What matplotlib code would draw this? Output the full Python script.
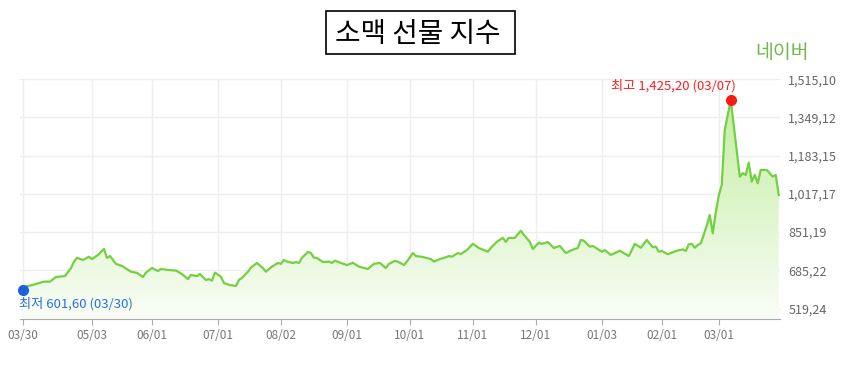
import numpy as np
import pandas as pd
import matplotlib.pyplot as plt
from matplotlib.colors import LinearSegmentedColormap
from matplotlib.patches import Rectangle

plt.rcParams['font.family'] = ['Noto Sans CJK KR', 'DejaVu Sans']

start = '2021-03-30'
# exchange holidays (no trading) in the period
holidays = ['2021-04-02', '2021-05-31', '2021-07-05', '2021-09-06',
            '2021-11-25', '2021-12-24', '2022-01-17', '2022-02-21']

# trading day number counted from 2021-03-30, and index value
day = [0, 1, 3, 7, 9, 11, 14, 16, 17, 18, 20, 22, 23, 25, 27, 28, 29, 31, 33, 36,
       38, 40, 41, 43, 45, 46, 48, 51, 53, 55, 56, 58, 59, 61, 62, 63, 64, 66, 67, 69,
       71, 72, 73, 75, 76, 78, 80, 81, 83, 85, 86, 87, 88, 90, 91, 92, 93, 95, 96, 97,
       98, 100, 102, 103, 104, 106, 108, 110, 112, 115, 117, 119, 121, 122, 124, 125, 127, 128, 130, 131,
       133, 136, 137, 139, 141, 142, 143, 145, 146, 148, 150, 152, 155, 156, 158, 160, 161, 162, 164, 166,
       167, 169, 170, 172, 173, 175, 177, 179, 181, 183, 185, 186, 187, 189, 190, 193, 194, 196, 199, 202,
       204, 206, 208, 210, 211, 212, 213, 215, 218, 220, 221, 222, 223, 224, 225, 226, 227, 228, 229, 230,
       231, 232, 233, 234, 235, 236, 239, 240, 241, 242, 243, 244, 245, 246, 248, 250, 251, 252]
price = [601.6, 614, 621, 636, 636, 656, 660, 695, 723, 739, 730, 744, 734, 752, 778, 739, 747, 713, 704, 679,
         674, 656, 675, 695, 682, 691, 687, 684, 669, 647, 665, 660, 669, 643, 647, 640, 675, 657, 630, 621,
         617, 643, 652, 679, 697, 717, 695, 679, 701, 717, 713, 730, 723, 717, 721, 717, 739, 765, 760, 740,
         739, 721, 723, 717, 727, 717, 708, 718, 701, 691, 713, 717, 695, 713, 726, 723, 708, 723, 760, 747,
         744, 734, 723, 734, 742, 747, 744, 760, 756, 773, 800, 782, 766, 783, 809, 826, 809, 826, 826, 857,
         839, 809, 778, 805, 800, 808, 782, 791, 760, 773, 782, 817, 814, 788, 791, 766, 773, 752, 770, 747,
         800, 783, 817, 785, 788, 766, 769, 755, 770, 776, 769, 798, 800, 783, 795, 802, 840, 880, 925, 846,
         935, 1010, 1056, 1295, 1360, 1425.2, 1092, 1107, 1099, 1153, 1070, 1099, 1063, 1121, 1121, 1092, 1099, 1012]

tick_dates = ['2021-03-30', '2021-05-03', '2021-06-01', '2021-07-01', '2021-08-02', '2021-09-01',
              '2021-10-01', '2021-11-01', '2021-12-01', '2022-01-03', '2022-02-01', '2022-03-01']
y_ticks = [519.24, 685.22, 851.19, 1017.17, 1183.15, 1349.12, 1515.10]

day = np.array(day)
price = np.array(price)
tick_pos = np.busday_count(start, tick_dates, holidays=holidays)
tick_labels = pd.to_datetime(tick_dates).strftime('%m/%d')


def kr_num(v):
    return f'{v:,.2f}'.replace('.', ',')


fig = plt.figure(figsize=(8.51, 3.65), dpi=100)
ax = fig.add_axes([0.0235, 0.126, 0.893, 0.657])
ymin, ymax = 473.6, 1515.10
xmin, xmax = -1, 252.4

# gradient fill under the line
cmap = LinearSegmentedColormap.from_list('g', ['#f9fdf6', '#c0ed9b'])
img = ax.imshow(np.linspace(0, 1, 256).reshape(-1, 1), cmap=cmap, origin='lower',
                extent=[xmin, xmax, ymin, ymax], aspect='auto', zorder=1)
poly = ax.fill_between(day, price, ymin, color='none', lw=0)
img.set_clip_path(poly.get_paths()[0], transform=ax.transData)

ax.plot(day, price, color='#73d040', lw=1.6, zorder=3, solid_joinstyle='round')

for t in tick_pos:
    ax.axvline(t, color='#eeeeee', lw=1, zorder=0)
for v in y_ticks:
    ax.axhline(v, color='#eeeeee', lw=1, zorder=0)

hi = np.argmax(price)
lo = np.argmin(price)
ax.plot(day[hi], price[hi], 'o', color='#ff1616', ms=7, zorder=4)
ax.plot(day[lo], price[lo], 'o', color='#1b62d8', ms=7, zorder=4, clip_on=False)
ax.annotate('최고 ' + kr_num(price[hi]) + ' (03/07)', (day[hi], price[hi]),
            xytext=(5, 14), textcoords='offset pixels', ha='right', va='center',
            color='#ff1e1e', fontsize=9.5)
ax.annotate('최저 ' + kr_num(price[lo]) + ' (03/30)', (day[lo], price[lo]),
            xytext=(-4, -14), textcoords='offset pixels', ha='left', va='center',
            color='#2a6fdc', fontsize=9.5)

ax.set_xlim(xmin, xmax)
ax.set_ylim(ymin, ymax)
ax.set_xticks(tick_pos)
ax.set_xticklabels(tick_labels, fontsize=8.5, color='#777777')
ax.set_yticks(y_ticks)
ax.set_yticklabels([kr_num(v) for v in y_ticks], fontsize=9, color='#666666')
ax.yaxis.tick_right()
ax.tick_params(axis='y', length=0, pad=6)
ax.tick_params(axis='x', length=4, color='#aaaaaa', pad=3)
for s in ['top', 'left', 'right']:
    ax.spines[s].set_visible(False)
ax.spines['bottom'].set_color('#aaaaaa')

# title in a box
fig.patches.append(Rectangle((326 / 851, 1 - 54 / 365), 189 / 851, 43 / 365,
                             transform=fig.transFigure, fc='white', ec='black', lw=1.2))
fig.text(0.491, 0.908, '소맥 선물 지수', ha='center', va='center', fontsize=20)
fig.text(0.887, 0.855, '네이버', ha='left', va='center', fontsize=14, color='#72b84a')

fig.savefig('out.png', dpi=100)
